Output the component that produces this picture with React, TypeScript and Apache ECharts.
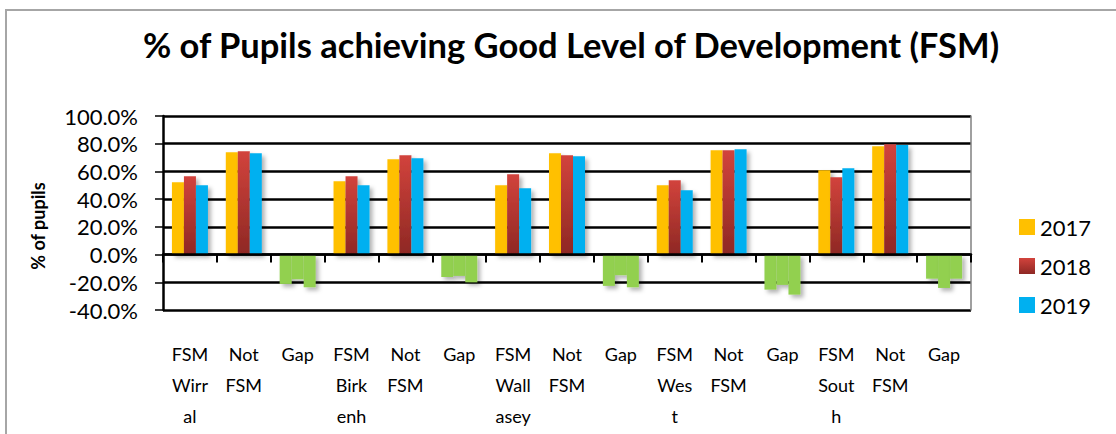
import React, { useEffect, useRef } from "react";
import * as echarts from "echarts";

const categories = [
  "FSM\nWirr\nal", "Not\nFSM", "Gap",
  "FSM\nBirk\nenh", "Not\nFSM", "Gap",
  "FSM\nWall\nasey", "Not\nFSM", "Gap",
  "FSM\nWes\nt", "Not\nFSM", "Gap",
  "FSM\nSout\nh", "Not\nFSM", "Gap",
];
const seriesNames = ["2017", "2018", "2019"];
const values2017 = [52.2, 73.9, -21.2, 52.9, 68.8, -16.2, 50.0, 73.1, -22.6, 50.0, 75.3, -25.3, 60.9, 78.2, -17.4];
const values2018 = [56.5, 74.6, -17.8, 56.5, 71.7, -15.4, 58.0, 71.7, -14.9, 53.7, 75.3, -21.9, 55.8, 79.7, -24.1];
const values2019 = [50.0, 73.1, -23.6, 50.0, 69.5, -20.0, 47.9, 71.0, -23.6, 46.4, 76.0, -28.9, 62.3, 79.0, -17.4];
const yMin = -40;
const yMax = 100;
const yInterval = 20;

const FONT = "Lato";
const GAP_COLOR = "#92D050";

export default function App() {
  const ref = useRef<HTMLDivElement>(null);
  useEffect(() => {
    if (!ref.current) return;
    const chart = echarts.init(ref.current, null, { renderer: "svg" });
    const red = new echarts.graphic.LinearGradient(0, 0, 0, 1, [
      { offset: 0, color: "#D2433C" },
      { offset: 1, color: "#8E2824" },
    ]);
    const colors: any[] = ["#FFC000", red, "#00B0F0"];
    const all = [values2017, values2018, values2019];
    const shadow = {
      shadowBlur: 4,
      shadowColor: "rgba(0,0,0,0.3)",
      shadowOffsetX: 3,
      shadowOffsetY: 3,
    };
    const series = seriesNames.map((name, si) => ({
      name,
      type: "bar",
      barWidth: 12,
      barGap: "0%",
      z: 3,
      itemStyle: { color: colors[si], ...shadow },
      data: all[si].map((v, i) =>
        categories[i] === "Gap" ? { value: v, itemStyle: { color: GAP_COLOR } } : v
      ),
    }));
    chart.setOption({
      animation: false,
      textStyle: { fontFamily: FONT },
      title: {
        text: "% of Pupils achieving Good Level of Development (FSM)",
        left: 566,
        textAlign: "center",
        top: 22,
        textStyle: { fontFamily: FONT, fontWeight: "bold", fontSize: 34.5, color: "#000" },
      },
      legend: {
        orient: "vertical",
        left: 1019,
        top: 216,
        padding: 0,
        itemWidth: 16,
        itemHeight: 16,
        itemGap: 17,
        icon: "rect",
        textStyle: { fontFamily: FONT, fontSize: 22, color: "#000" },
        data: seriesNames,
      },
      grid: {
        left: 163,
        top: 116,
        right: 145,
        bottom: 124,
      },
      graphic: [
        {
          type: "rect",
          shape: { x: 6, y: 10, width: 1200, height: 600 },
          style: { fill: "none", stroke: "#A6A6A6", lineWidth: 2 },
          silent: true,
        },
        {
          type: "text",
          x: 38,
          y: 226,
          rotation: Math.PI / 2,
          style: {
            text: "% of pupils",
            fontFamily: FONT,
            fontWeight: "bold",
            fontSize: 18,
            fill: "#000",
            align: "center",
            verticalAlign: "middle",
          },
        },
      ],
      xAxis: [
        {
          type: "category",
          data: categories,
          position: "bottom",
          axisLine: { show: false, onZero: false },
          axisTick: { show: false },
          axisLabel: {
            interval: 0,
            margin: 28,
            fontFamily: FONT,
            fontSize: 18,
            lineHeight: 31,
            color: "#000",
          },
        },
        {
          type: "category",
          data: categories,
          position: "bottom",
          axisLine: { show: true, onZero: true, lineStyle: { color: "#000", width: 2.5 } },
          axisTick: { show: true, interval: 0, length: 8, lineStyle: { color: "#000", width: 2 } },
          axisLabel: { show: false },
          z: 4,
        },
      ],
      yAxis: [
        {
          type: "value",
          min: yMin,
          max: yMax,
          interval: yInterval,
          axisLine: { show: true, lineStyle: { color: "#000", width: 2.5 } },
          axisTick: { show: true, length: 8, lineStyle: { color: "#000", width: 1.5 } },
          axisLabel: {
            margin: 25,
            fontFamily: FONT,
            fontSize: 22,
            color: "#000",
            formatter: (v: number) => v.toFixed(1) + "%",
          },
          splitLine: {
            lineStyle: { color: "#000", width: 2.5, opacity: 1 },
          },
        },
        {
          type: "value",
          position: "right",
          min: yMin,
          max: yMax,
          interval: yInterval,
          axisLine: { show: true, lineStyle: { color: "#808080", width: 1.5 } },
          axisTick: { show: false },
          axisLabel: { show: false },
          splitLine: { show: false },
        },
      ],
      series,
    });
    return () => chart.dispose();
  }, []);
  return (
    <div
      ref={ref}
      style={{ position: "absolute", left: 0, top: 0, width: 1116, height: 434, background: "#fff" }}
    />
  );
}
